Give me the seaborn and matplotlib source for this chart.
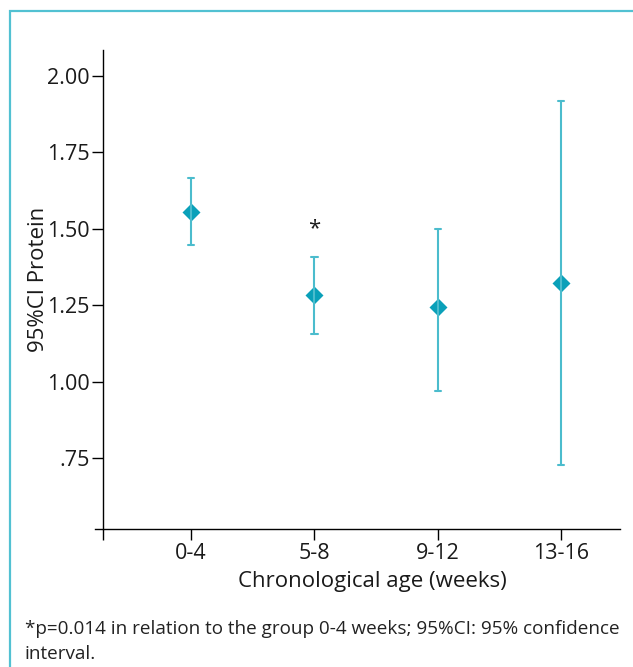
import numpy as np
import pandas as pd
import matplotlib.pyplot as plt
import matplotlib.patches as mpatches
import seaborn as sns

# values
groups = ['0-4', '5-8', '9-12', '13-16']
means = [1.556, 1.283, 1.244, 1.324]
ci_low = [1.446, 1.155, 0.970, 0.729]
ci_high = [1.665, 1.408, 1.499, 1.918]
ytick_vals = [2.00, 1.75, 1.50, 1.25, 1.00, 0.75]
ytick_labels = ['2.00', '1.75', '1.50', '1.25', '1.00', '.75']
star_group = 1
star_y = 1.500

# long form: low / mean / high per group, median gives the mean, min-max gives the CI
df = pd.DataFrame({
    'age': np.repeat(groups, 3),
    'protein': np.column_stack([ci_low, means, ci_high]).ravel(),
})

sns.set_style('ticks')
plt.rcParams['font.family'] = ['Open Sans', 'DejaVu Sans']

marker_color = '#0aa0b9'
bar_color = '#4bbccd'
txt = '#1a1a1a'

fig = plt.figure(figsize=(6.33, 6.67), dpi=100)
ax = fig.add_axes([95 / 633, 1 - 529.3 / 667, 525 / 633, 479.3 / 667])

sns.pointplot(data=df, x='age', y='protein', order=groups,
              estimator='median', errorbar=lambda v: (v.min(), v.max()),
              linestyle='none', markers='D', markersize=7,
              color=marker_color, capsize=0.05,
              err_kws={'color': bar_color, 'linewidth': 1.5}, ax=ax)

ax.text(star_group, star_y, '*', ha='center', va='center', fontsize=16, color=txt)

yaxis_x = -0.711
ax.set_xlim(-0.778, 3.476)
ax.set_ylim(0.518, 2.084)
ax.spines['left'].set_position(('data', yaxis_x))
ax.spines['right'].set_visible(False)
ax.spines['top'].set_visible(False)
for s in ['left', 'bottom']:
    ax.spines[s].set_color('black')
    ax.spines[s].set_linewidth(1)

ax.set_yticks(ytick_vals)
ax.set_yticklabels(ytick_labels)
ax.set_xticks([yaxis_x, 0, 1, 2, 3])
ax.set_xticklabels([''] + groups)
ax.tick_params(axis='both', length=8, width=1, color='black', labelsize=15.5,
               labelcolor=txt, pad=2)

ax.set_xlabel('Chronological age (weeks)', fontsize=16, color=txt)
ax.set_ylabel('95%CI Protein', fontsize=16, color=txt)
ax.xaxis.set_label_coords((372 - 95) / 525, (529.3 - 582) / 479.3)
ax.xaxis.label.set_verticalalignment('center')
ax.yaxis.set_label_coords((38 - 95) / 525, 0.522)
ax.yaxis.label.set_verticalalignment('center')

fig.text(25 / 633, 1 - 634 / 667,
         '*p=0.014 in relation to the group 0-4 weeks; 95%CI: 95% confidence',
         fontsize=13.6, color='#222222', va='baseline', ha='left')
fig.text(25 / 633, 1 - 659 / 667, 'interval.',
         fontsize=13.6, color='#222222', va='baseline', ha='left')

# frame around the figure, only left and top edges visible
frame = mpatches.Rectangle((9.5 / 633, -0.2), 1.2, 1.2 - 10.7 / 667,
                           transform=fig.transFigure, fill=False,
                           edgecolor='#52c1d2', linewidth=1.6)
fig.patches.append(frame)

fig.savefig('out.png', dpi=100)
